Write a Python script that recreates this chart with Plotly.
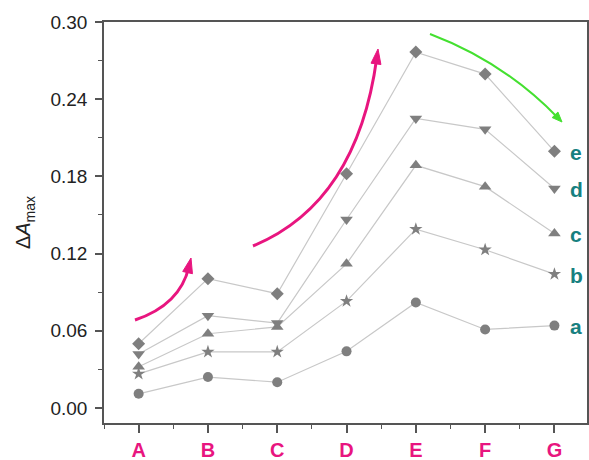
import plotly.graph_objects as go

categories = ["A", "B", "C", "D", "E", "F", "G"]
series_names = ["a", "b", "c", "d", "e"]
vals_a = [0.011, 0.024, 0.020, 0.044, 0.082, 0.061, 0.064]
vals_b = [0.0265, 0.0436, 0.0436, 0.083, 0.139, 0.123, 0.104]
vals_c = [0.032, 0.0577, 0.063, 0.112, 0.1886, 0.172, 0.1356]
vals_d = [0.042, 0.0717, 0.066, 0.1465, 0.225, 0.2166, 0.1706]
vals_e = [0.0499, 0.1005, 0.0888, 0.182, 0.2766, 0.2595, 0.1995]
symbols = ["circle", "star", "triangle-up", "triangle-down", "diamond"]
sizes = [10, 10, 11, 11, 10]
y_ticks = [0.00, 0.06, 0.12, 0.18, 0.24, 0.30]

all_vals = [vals_a, vals_b, vals_c, vals_d, vals_e]
xs = list(range(len(categories)))

# layout geometry (pixels)
W, H = 589, 460
ML, MR, MT, MB = 104, 2, 22, 37
XR = [-0.5, 6.47]
YR = [-0.0117, 0.30]
pw = W - ML - MR
ph = H - MT - MB


def px2data(px, py):
    x = XR[0] + (px - ML) / pw * (XR[1] - XR[0])
    y = YR[1] - (py - MT) / ph * (YR[1] - YR[0])
    return x, y


fig = go.Figure()
for name, v, sym, sz in zip(series_names, all_vals, symbols, sizes):
    fig.add_trace(go.Scatter(
        x=xs, y=v, mode="lines+markers", name=name,
        line=dict(color="#c8c8c8", width=1.2),
        marker=dict(symbol=sym, size=sz, color="#7f7f7f", line=dict(width=0)),
        showlegend=False,
    ))

# curved arrows (pixel: start, control, end), color, width, head size
arrows = [
    ((135, 320), (180, 305), (191, 258), "#e8157f", 3, 15, 5),
    ((253, 246), (357, 203), (378, 49), "#e8157f", 3, 15, 5),
    ((430, 34), (504, 62), (562, 122), "#44e030", 2, 10, 4),
]
shapes = []
for (s, c, e, col, lw, hl, hw) in arrows:
    dx, dy = e[0] - c[0], e[1] - c[1]
    n = (dx * dx + dy * dy) ** 0.5
    ux, uy = dx / n, dy / n
    e2 = (e[0] - ux * hl * 0.6, e[1] - uy * hl * 0.6)
    S = px2data(*s); C = px2data(*c); E = px2data(*e2)
    shapes.append(dict(
        type="path", xref="x", yref="y",
        path=f"M {S[0]},{S[1]} Q {C[0]},{C[1]} {E[0]},{E[1]}",
        line=dict(color=col, width=lw), layer="above",
    ))
    bx, by = e[0] - ux * hl, e[1] - uy * hl
    p1 = px2data(e[0], e[1])
    p2 = px2data(bx - uy * hw, by + ux * hw)
    p3 = px2data(bx + uy * hw, by - ux * hw)
    shapes.append(dict(
        type="path", xref="x", yref="y",
        path=f"M {p1[0]},{p1[1]} L {p2[0]},{p2[1]} L {p3[0]},{p3[1]} Z",
        fillcolor=col, line=dict(color=col, width=1), layer="above",
    ))

annotations = []
for name, v in zip(series_names, all_vals):
    annotations.append(dict(
        x=xs[-1], y=v[-1], xref="x", yref="y", text=f"<b>{name}</b>",
        showarrow=False, xshift=22, yshift=-1,
        font=dict(family="Liberation Sans, Arial", size=21, color="#17807f"),
    ))

fig.update_layout(
    width=W, height=H,
    margin=dict(l=ML, r=MR, t=MT, b=MB, autoexpand=False),
    paper_bgcolor="white", plot_bgcolor="white",
    shapes=shapes, annotations=annotations,
    font=dict(family="Liberation Sans, Arial", color="#222"),
)
fig.update_xaxes(
    range=XR, tickvals=xs, ticktext=[f"<b>{c}</b>" for c in categories],
    showgrid=False, zeroline=False, automargin=False,
    showline=True, linecolor="#555", linewidth=1.5, mirror=True,
    ticks="outside", ticklen=8, tickwidth=1.5, tickcolor="#555",
    minor=dict(tickvals=[i + 0.5 for i in range(-1, 7)], ticks="outside", ticklen=4,
               tickcolor="#555", tickwidth=1.2),
    tickfont=dict(family="Liberation Sans, Arial", size=20, color="#e8157f"),
    ticklabelstandoff=0,
)
fig.update_yaxes(
    range=YR, tickvals=y_ticks, ticktext=[f"{t:.2f}" for t in y_ticks],
    showgrid=False, zeroline=False, automargin=False,
    showline=True, linecolor="#555", linewidth=1.5, mirror=True,
    ticks="outside", ticklen=7, tickwidth=1.5, tickcolor="#555",
    minor=dict(tickvals=[0.03, 0.09, 0.15, 0.21, 0.27], ticks="outside", ticklen=4,
               tickcolor="#555", tickwidth=1.2),
    tickfont=dict(family="Liberation Sans, Arial", size=19, color="#222"),
    ticklabelstandoff=4,
    title=dict(text="Δ<i>A</i><sub>max</sub>", font=dict(size=20, color="#222"), standoff=14),
)

fig.write_html("out.html")
